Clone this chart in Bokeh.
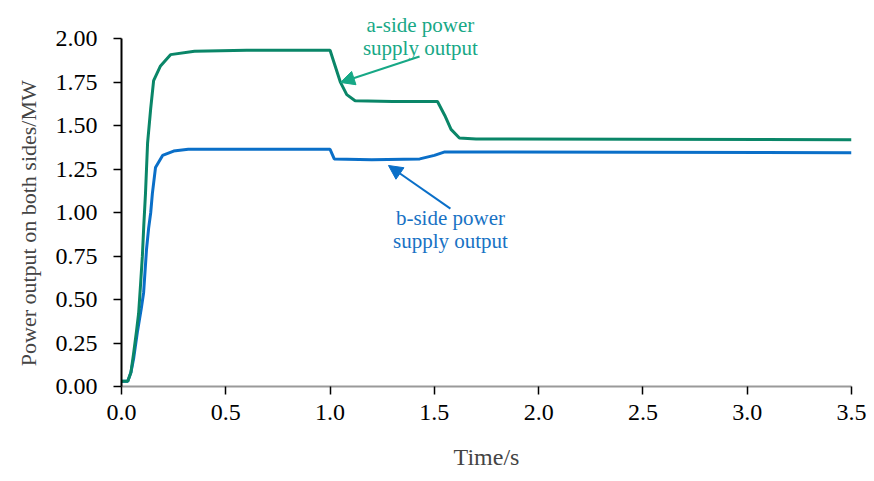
from bokeh.plotting import figure
from bokeh.models import Range1d, FixedTicker, Label, Arrow, NormalHead, CustomJSTickFormatter
from bokeh.embed import file_html
from bokeh.resources import INLINE

# a-side power supply output (MW) vs time (s)
t_a = [0.0, 0.03, 0.045, 0.058, 0.072, 0.082, 0.091, 0.100, 0.107, 0.115, 0.125,
       0.14, 0.154, 0.187, 0.235, 0.35, 0.6, 1.0, 1.02, 1.05, 1.08, 1.12, 1.3,
       1.515, 1.55, 1.58, 1.62, 1.7, 3.5]
p_a = [0.03, 0.03, 0.08, 0.19, 0.32, 0.42, 0.58, 0.75, 0.93, 1.11, 1.40,
       1.60, 1.76, 1.845, 1.91, 1.93, 1.935, 1.935, 1.86, 1.75, 1.68, 1.645, 1.64,
       1.64, 1.56, 1.48, 1.43, 1.425, 1.42]

# b-side power supply output (MW) vs time (s)
t_b = [0.0, 0.03, 0.045, 0.058, 0.077, 0.095, 0.106, 0.12, 0.13, 0.14, 0.148,
       0.163, 0.197, 0.25, 0.32, 1.0, 1.02, 1.2, 1.43, 1.5, 1.55, 3.5]
p_b = [0.03, 0.03, 0.08, 0.16, 0.32, 0.45, 0.54, 0.79, 0.91, 1.0, 1.11,
       1.26, 1.33, 1.355, 1.365, 1.365, 1.31, 1.305, 1.31, 1.33, 1.35, 1.345]

x_ticks = [0.0, 0.5, 1.0, 1.5, 2.0, 2.5, 3.0, 3.5]
y_ticks = [0.0, 0.25, 0.5, 0.75, 1.0, 1.25, 1.5, 1.75, 2.0]

label_a = ["a-side power", "supply output"]
label_b = ["b-side power", "supply output"]

GREEN = "#0a8668"
BLUE = "#0a6fc8"
GREEN_TXT = "#17a886"
BLUE_TXT = "#1872c4"
FONT = "Liberation Serif"

p = figure(width=874, height=481, output_backend="svg", toolbar_location=None,
           x_range=Range1d(0, 3.5), y_range=Range1d(0, 2.164),
           min_border_left=121, min_border_right=23, min_border_top=10, min_border_bottom=95)
p.outline_line_color = None
p.xgrid.visible = False
p.ygrid.visible = False
p.background_fill_color = "white"
p.border_fill_color = "white"

p.line(t_b, p_b, line_color=BLUE, line_width=3)
p.line(t_a, p_a, line_color=GREEN, line_width=3)

xa = p.xaxis[0]
xa.ticker = FixedTicker(ticks=x_ticks)
xa.formatter = CustomJSTickFormatter(code="return tick.toFixed(1);")
xa.axis_line_color = "#9a9a9a"
xa.axis_line_width = 2
xa.major_tick_line_color = "black"
xa.major_tick_line_width = 1.5
xa.major_tick_out = 8
xa.major_tick_in = 0
xa.minor_tick_line_color = None
xa.major_label_text_font = FONT
xa.major_label_text_font_size = "24px"
xa.major_label_text_color = "black"
xa.major_label_standoff = 10
xa.axis_label = "Time/s"
xa.axis_label_text_font = FONT
xa.axis_label_text_font_size = "24px"
xa.axis_label_text_font_style = "normal"
xa.axis_label_standoff = 21

ya = p.yaxis[0]
ya.ticker = FixedTicker(ticks=y_ticks)
ya.bounds = (0, 2.0)
ya.formatter = CustomJSTickFormatter(code="return tick.toFixed(2);")
ya.axis_line_color = "black"
ya.axis_line_width = 2
ya.major_tick_line_color = "black"
ya.major_tick_line_width = 1.5
ya.major_tick_out = 8
ya.major_tick_in = 0
ya.minor_tick_line_color = None
ya.major_label_text_font = FONT
ya.major_label_text_font_size = "24px"
ya.major_label_text_color = "black"
ya.major_label_standoff = 16
# trailing no-break spaces keep the label centred over the 0-2.00 axis span
ya.axis_label = "Power output on both sides/MW" + "\u00a0" * 9
ya.axis_label_text_font = FONT
ya.axis_label_text_font_size = "22px"
ya.axis_label_text_font_style = "normal"
ya.axis_label_standoff = 12

# annotations
for txt, yv in zip(label_a, [2.078, 1.951]):
    p.add_layout(Label(x=1.433, y=yv, text=txt, text_align="center", text_baseline="alphabetic",
                       text_font=FONT, text_font_size="21px", text_color=GREEN_TXT))
for txt, yv in zip(label_b, [0.967, 0.840]):
    p.add_layout(Label(x=1.577, y=yv, text=txt, text_align="center", text_baseline="alphabetic",
                       text_font=FONT, text_font_size="21px", text_color=BLUE_TXT))

p.add_layout(Arrow(x_start=1.429, y_start=1.899, x_end=1.050, y_end=1.750,
                   line_color=GREEN_TXT, line_width=2,
                   end=NormalHead(size=14, fill_color=GREEN_TXT, line_color=GREEN_TXT)))
p.add_layout(Arrow(x_start=1.577, y_start=1.024, x_end=1.280, y_end=1.272,
                   line_color=BLUE, line_width=2,
                   end=NormalHead(size=14, fill_color=BLUE, line_color=BLUE)))

open("out.html", "w").write(file_html(p, INLINE))
